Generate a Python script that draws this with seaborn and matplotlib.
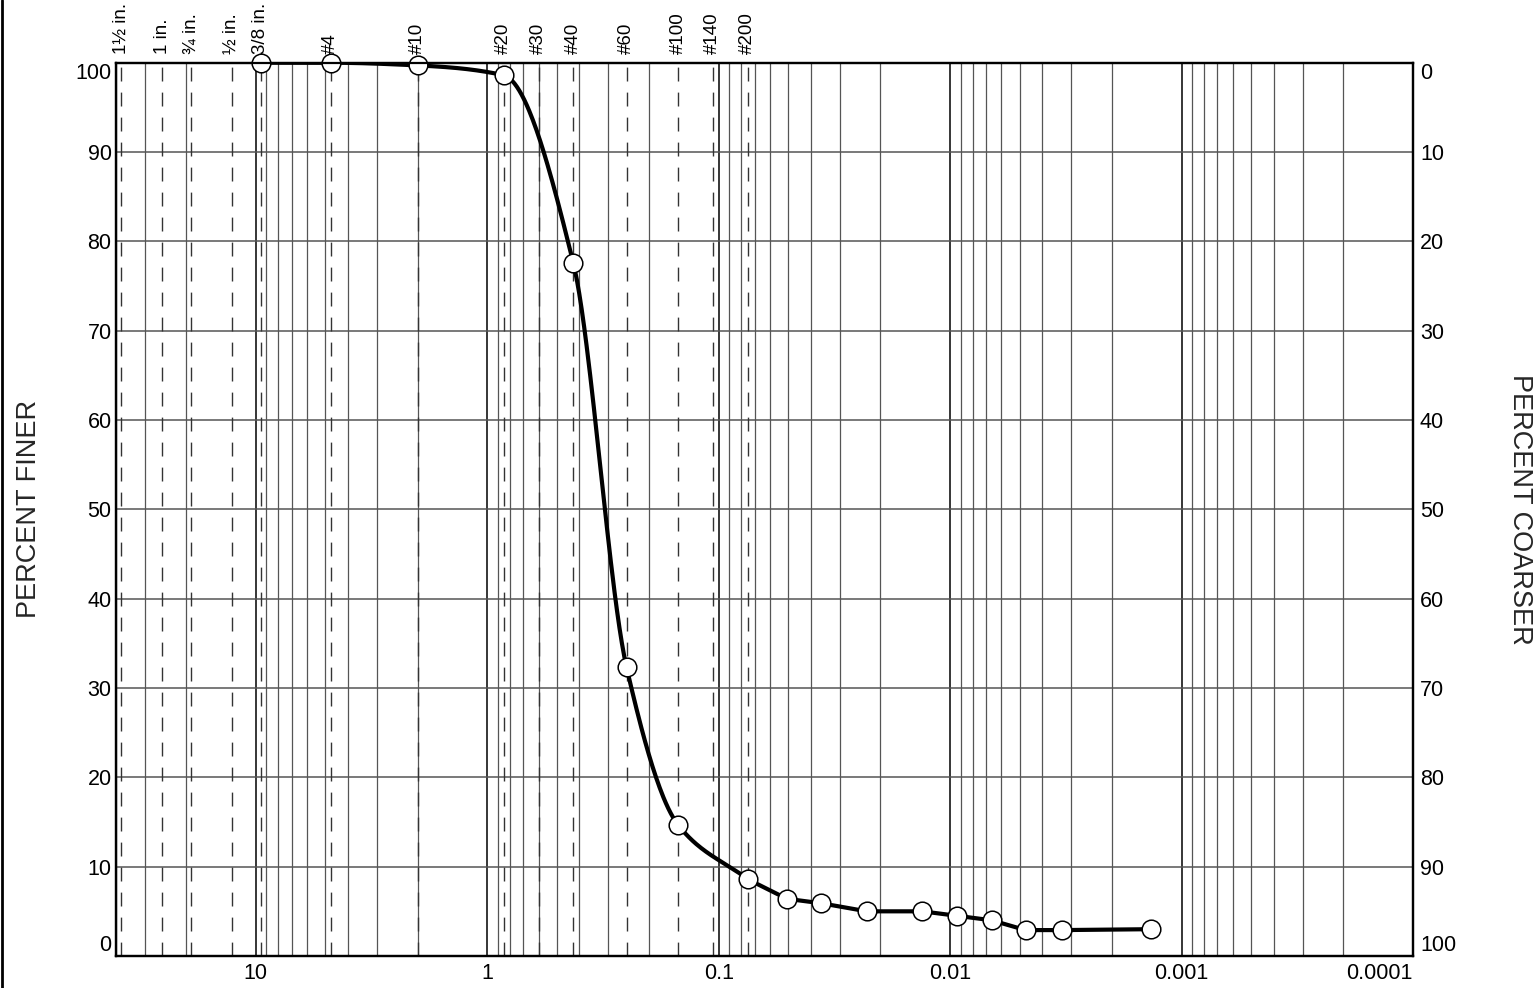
import numpy as np
import pandas as pd
import seaborn as sns
import matplotlib
matplotlib.use('Agg')
import matplotlib.pyplot as plt
from matplotlib import ticker, transforms
from matplotlib.lines import Line2D

# sieve openings shown along the top (mm)
sieve_labels = ['1\u00bd in.', '1 in.', '\u00be in.', '\u00bd in.', '3/8 in.', '#4', '#10',
                '#20', '#30', '#40', '#60', '#100', '#140', '#200']
sieve_sizes = [38.1, 25.4, 19.05, 12.7, 9.525, 4.75, 2.0, 0.85, 0.6, 0.425, 0.25, 0.15, 0.106, 0.075]

# sieve test results
sieve_d = [9.525, 4.75, 2.0, 0.85, 0.425, 0.25, 0.15, 0.075]
sieve_pf = [100.0, 100.0, 99.7, 98.6, 77.6, 32.3, 14.7, 8.6]

# hydrometer results
hydro_d = [0.0507, 0.0360, 0.0229, 0.0132, 0.00932, 0.00662, 0.00472, 0.00327, 0.00136]
hydro_pf = [6.4, 5.9, 5.0, 5.0, 4.5, 4.0, 2.9, 2.9, 3.0]

x_ticks = [10, 1, 0.1, 0.01, 0.001, 0.0001]
x_ticklabels = ['10', '1', '0.1', '0.01', '0.001', '0.0001']


def pchip(x, y, xq):
    # monotone cubic through the sieve points (x ascending)
    x = np.asarray(x, float)
    y = np.asarray(y, float)
    h = np.diff(x)
    delta = np.diff(y) / h
    m = np.zeros_like(y)
    for k in range(1, len(x) - 1):
        if delta[k - 1] * delta[k] > 0:
            w1 = 2 * h[k] + h[k - 1]
            w2 = h[k] + 2 * h[k - 1]
            m[k] = (w1 + w2) / (w1 / delta[k - 1] + w2 / delta[k])
    m[0] = delta[0]
    m[-1] = delta[-1]
    idx = np.clip(np.searchsorted(x, xq) - 1, 0, len(x) - 2)
    t = (xq - x[idx]) / h[idx]
    h00 = 2 * t**3 - 3 * t**2 + 1
    h10 = t**3 - 2 * t**2 + t
    h01 = -2 * t**3 + 3 * t**2
    h11 = t**3 - t**2
    return h00 * y[idx] + h10 * h[idx] * m[idx] + h01 * y[idx + 1] + h11 * h[idx] * m[idx + 1]


sns.set_theme(style="white")
plt.rcParams['font.family'] = ['Liberation Sans', 'DejaVu Sans']

fig = plt.figure(figsize=(15.35, 9.88), dpi=100)
ax = fig.add_axes([0.0754, 0.0324, 0.8451, 0.9041])
ax.set_xscale('log')

# smooth curve through sieve data, straight segments through hydrometer data
lx = np.log10(sieve_d)[::-1]
ly = np.array(sieve_pf)[::-1]
xq = np.linspace(lx[0], lx[-1], 400)
curve = pd.DataFrame({'d': np.concatenate([10 ** xq[::-1], hydro_d]),
                      'pf': np.concatenate([pchip(lx, ly, xq)[::-1], hydro_pf])})
sns.lineplot(data=curve, x='d', y='pf', sort=False, color='black', lw=3.0,
             ax=ax, zorder=4, estimator=None)

pts = pd.DataFrame({'d': sieve_d + hydro_d, 'pf': sieve_pf + hydro_pf})
sns.scatterplot(data=pts, x='d', y='pf', s=180, color='white', edgecolor='black',
                linewidth=1.1, ax=ax, zorder=5, clip_on=False)

for d in sieve_sizes:
    ax.axvline(d, color='#333333', lw=1.0, ls=(0, (10, 8)), zorder=1)

ax.set_xlim(40.3, 1e-4)
ax.set_ylim(0, 100)
ax.xaxis.set_major_locator(ticker.FixedLocator(x_ticks))
ax.xaxis.set_major_formatter(ticker.FixedFormatter(x_ticklabels))
ax.xaxis.set_minor_locator(ticker.LogLocator(base=10, subs=np.arange(2, 10), numticks=100))
ax.xaxis.set_minor_formatter(ticker.NullFormatter())
ax.set_yticks(range(0, 101, 10))
ax.set_axisbelow(True)
ax.xaxis.grid(True, which='major', color='black', lw=1.1)
ax.xaxis.grid(True, which='minor', color='#555555', lw=0.9)
ax.yaxis.grid(True, which='major', color='#555555', lw=1.1)
ax.tick_params(axis='both', which='both', length=0, labelsize=15.5, colors='black')
ax.tick_params(axis='x', pad=5)
ax.tick_params(axis='y', pad=3)
ax.set_xlabel('')
ax.set_ylabel('')
for s in ax.spines.values():
    s.set_color('black')
    s.set_linewidth(1.6)

ylabels = ax.get_yticklabels()
ylabels[0].set_va('bottom')
ylabels[-1].set_va('top')
xlabels = ax.get_xticklabels()
xlabels[-1].set_ha('right')

ax2 = ax.twinx()
ax2.set_ylim(100, 0)
ax2.set_yticks(range(0, 101, 10))
ax2.tick_params(axis='y', length=0, labelsize=15.5, pad=5, colors='black')
ax2.grid(False)
for s in ax2.spines.values():
    s.set_color('black')
    s.set_linewidth(1.6)
rlabels = ax2.get_yticklabels()
rlabels[0].set_va('top')
rlabels[-1].set_va('bottom')

trans = transforms.blended_transform_factory(ax.transData, ax.transAxes)
for lab, d in zip(sieve_labels, sieve_sizes):
    ax.text(d, 1.01, lab, transform=trans, rotation=90, ha='center', va='bottom',
            fontsize=13.5, color='black')

fig.text(0.019, 0.4845, 'PERCENT FINER', rotation=90, ha='center', va='center', fontsize=19.5)
fig.text(0.990, 0.4845, 'PERCENT COARSER', rotation=270, ha='center', va='center', fontsize=19.5)
fig.add_artist(Line2D([0.0012, 0.0012], [0, 1], transform=fig.transFigure, color='black', lw=2))

fig.savefig('out.png', dpi=100)
